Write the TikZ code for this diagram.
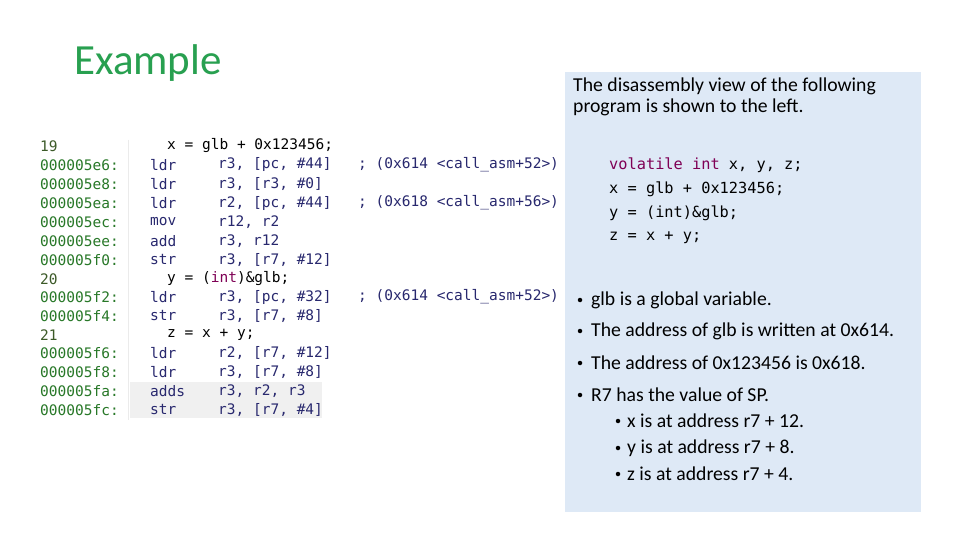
\documentclass[tikz,border=0pt]{standalone}
\usepackage{fontspec}
\setmainfont{Carlito}
\setmonofont{DejaVu Sans Mono}
\definecolor{addrgreen}{RGB}{40,120,40}
\definecolor{srcgreen}{RGB}{60,90,40}
\definecolor{insblue}{RGB}{40,40,110}
\definecolor{kwpurple}{RGB}{127,0,85}
\definecolor{titlegreen}{RGB}{40,160,80}
\definecolor{boxblue}{RGB}{222,233,246}
\begin{document}
\begin{tikzpicture}[x=1pt,y=-1pt,
  addr/.style={anchor=west,inner sep=0pt,font=\ttfamily\fontsize{14.5}{17}\selectfont,text=addrgreen},
  ins/.style={anchor=west,inner sep=0pt,font=\ttfamily\fontsize{14.5}{17}\selectfont,text=insblue},
  src/.style={anchor=west,inner sep=0pt,font=\ttfamily\fontsize{14.5}{17}\selectfont,text=black},
  code/.style={anchor=west,inner sep=0pt,font=\ttfamily\fontsize{15.3}{18}\selectfont},
  note/.style={anchor=west,inner sep=0pt,font=\fontsize{19.7}{23}\selectfont},
  dot/.style={circle,fill=black,inner sep=0pt,minimum size=4.5pt}]
\useasboundingbox (0,0) rectangle (960,540);
\fill[white] (0,0) rectangle (960,540);
\node[anchor=west,inner sep=0pt,text=titlegreen,font=\fontsize{43}{50}\selectfont] (title) at (74,63) {Example};
% listing
\fill[black!6] (130,382) rectangle (322,418);
\draw[black!8] (128,140) -- (128,420);
\foreach \y/\a/\m/\o/\c [count=\i] in {
 165/000005e6:/ldr/{r3, [pc, \#44]}/{; (0x614 <call\_asm+52>)},
 184/000005e8:/ldr/{r3, [r3, \#0]}/{},
 203/000005ea:/ldr/{r2, [pc, \#44]}/{; (0x618 <call\_asm+56>)},
 222/000005ec:/mov/{r12, r2}/{},
 241/000005ee:/add/{r3, r12}/{},
 260/000005f0:/str/{r3, [r7, \#12]}/{},
 297/000005f2:/ldr/{r3, [pc, \#32]}/{; (0x614 <call\_asm+52>)},
 316/000005f4:/str/{r3, [r7, \#8]}/{},
 353/000005f6:/ldr/{r2, [r7, \#12]}/{},
 372/000005f8:/ldr/{r3, [r7, \#8]}/{},
 391/000005fa:/adds/{r3, r2, r3}/{},
 410/000005fc:/str/{r3, [r7, \#4]}/{}}{
  \node[addr] (a\i) at (40,\y) {\a};
  \node[ins] (m\i) at (150,\y) {\m};
  \node[ins] (o\i) at (218,\y) {\o};
  \node[ins] (c\i) at (358,\y) {\c};
}
\node[addr,text=srcgreen] (l19) at (40,146) {19};
\node[src] (s19) at (167,146) {x = glb + 0x123456;};
\node[addr,text=srcgreen] (l20) at (40,279) {20};
\node[src] (s20) at (167,279) {y = (\textcolor{kwpurple}{int})\&glb;};
\node[addr,text=srcgreen] (l21) at (40,335) {21};
\node[src] (s21) at (167,335) {z = x + y;};
% notes box
\fill[boxblue] (565,72) rectangle (921,512);
\node[note] (n1) at (573,86) {The disassembly view of the following};
\node[note] (n2) at (573,107) {program is shown to the left.};
\node[code] (k1) at (609,165) {\textcolor{kwpurple}{volatile int} x, y, z;};
\node[code] (k2) at (609,189) {x = glb + 0x123456;};
\node[code] (k3) at (609,213) {y = (int)\&glb;};
\node[code] (k4) at (609,238) {z = x + y;};
\foreach \y/\t [count=\i] in {300/glb is a global variable.,331/The address of glb is written at 0x614.,363/The address of 0x123456 is 0x618.,395/R7 has the value of SP.}{
  \node[dot] (b\i) at (580,\y) {};
  \node[note] (t\i) at (591,\y) {\t};
}
\foreach \y/\t [count=\i] in {421/x is at address r7 + 12.,448/y is at address r7 + 8.,474/z is at address r7 + 4.}{
  \node[dot] (sb\i) at (618,\y) {};
  \node[note] (st\i) at (627,\y) {\t};
}
\end{tikzpicture}
\end{document}
